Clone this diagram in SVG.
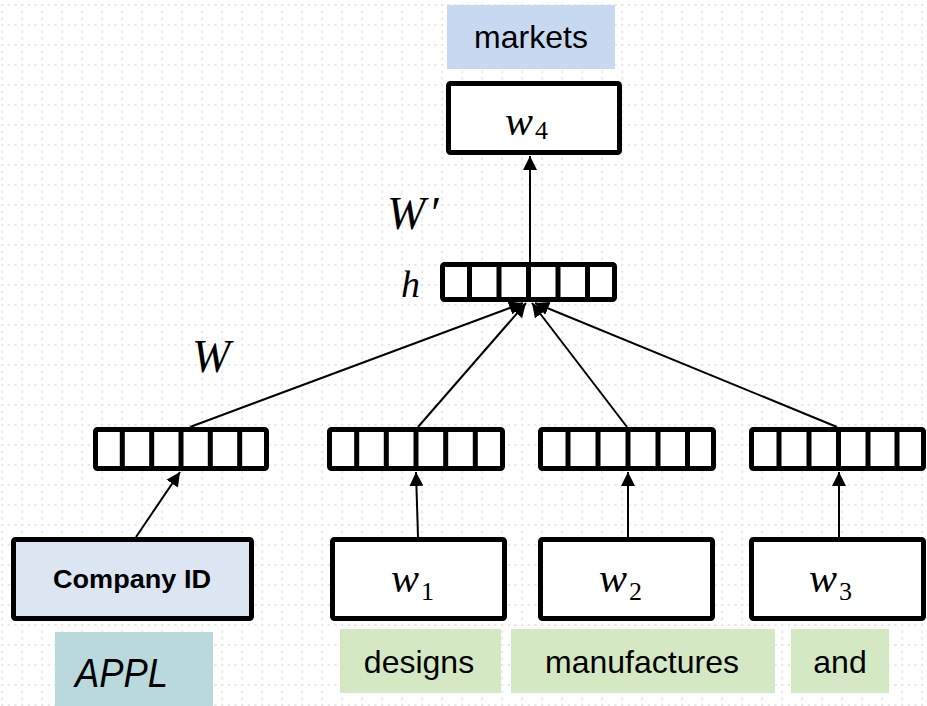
<svg xmlns="http://www.w3.org/2000/svg" width="927" height="706" viewBox="0 0 927 706">
  <defs>
    <!-- dotted background grid, 20px cells -->
    <pattern id="grid" patternUnits="userSpaceOnUse" x="0" y="0" width="20" height="20">
      <rect x="1" y="4" width="2.4" height="2" fill="#e8e8e8"/>
      <rect x="7.7" y="4" width="2.4" height="2" fill="#e8e8e8"/>
      <rect x="14.3" y="4" width="2.4" height="2" fill="#e8e8e8"/>
      <rect x="1.2" y="10.7" width="2" height="2.4" fill="#e8e8e8"/>
      <rect x="1.2" y="17.3" width="2" height="2.4" fill="#e8e8e8"/>
    </pattern>
    <marker id="arrow" markerUnits="userSpaceOnUse" markerWidth="14" markerHeight="14" viewBox="0 0 14 14" refX="14" refY="7" orient="auto">
      <path d="M0,0 L14,7 L0,14 z" fill="#000"/>
    </marker>
  </defs>
  <style>
    .box { fill: #fff; stroke: #000; stroke-width: 5; }
    .vec { fill: #fff; stroke: #000; stroke-width: 5; }
    .div { stroke: #000; stroke-width: 5; fill: none; }
    .edge { stroke: #000; stroke-width: 2; fill: none; marker-end: url(#arrow); }
    .word { font-family: "Liberation Sans", Arial, sans-serif; font-size: 32px; fill: #000; text-anchor: middle; }
    .math { font-family: "Liberation Serif", "Times New Roman", serif; font-style: italic; fill: #000; }
    .var { font-size: 42px; }
    .sub { font-family: "Liberation Serif", "Times New Roman", serif; font-size: 26px; fill: #000; }
  </style>

  <rect width="927" height="706" fill="#fff"/>
  <rect width="927" height="706" fill="url(#grid)"/>

  <!-- output word -->
  <g id="label-markets">
    <rect x="447" y="5" width="168" height="64" fill="#c6d9f1"/>
    <text class="word" x="531" y="48">markets</text>
  </g>
  <g id="node-w4">
    <rect class="box" x="448.5" y="83.5" width="171" height="69" rx="2"/>
    <text class="math var" x="505" y="135">w</text>
    <text class="sub" x="535" y="139">4</text>
  </g>

  <!-- weight labels -->
  <g id="label-Wprime">
    <text class="math" x="387" y="229" font-size="46">W<tspan font-style="normal" dx="6">′</tspan></text>
  </g>
  <g id="label-W">
    <text class="math" x="192" y="372" font-size="46">W</text>
  </g>

  <!-- hidden layer -->
  <g id="node-h">
    <text class="math" x="401" y="297" font-size="38">h</text>
    <rect class="vec" x="442.5" y="264.5" width="172" height="35" rx="2"/>
    <path class="div" d="M469.5,264.5V299.5 M499,264.5V299.5 M528.5,264.5V299.5 M558,264.5V299.5 M587.5,264.5V299.5"/>
  </g>

  <!-- input embedding vectors -->
  <g id="vec-company">
    <rect class="vec" x="95.5" y="429.5" width="171" height="39" rx="2"/>
    <path class="div" d="M122.3,429.5V468.5 M151.7,429.5V468.5 M181,429.5V468.5 M210.3,429.5V468.5 M239.7,429.5V468.5"/>
  </g>
  <g id="vec-w1">
    <rect class="vec" x="329.5" y="429.5" width="173" height="39" rx="2"/>
    <path class="div" d="M356.7,429.5V468.5 M386.3,429.5V468.5 M416,429.5V468.5 M445.7,429.5V468.5 M475.3,429.5V468.5"/>
  </g>
  <g id="vec-w2">
    <rect class="vec" x="540.5" y="429.5" width="173" height="39" rx="2"/>
    <path class="div" d="M568,429.5V468.5 M598,429.5V468.5 M628,429.5V468.5 M658,429.5V468.5 M687.5,429.5V468.5"/>
  </g>
  <g id="vec-w3">
    <rect class="vec" x="751.5" y="429.5" width="172" height="39" rx="2"/>
    <path class="div" d="M779,429.5V468.5 M809,429.5V468.5 M838.5,429.5V468.5 M868,429.5V468.5 M897,429.5V468.5"/>
  </g>

  <!-- input nodes -->
  <g id="node-company">
    <rect x="13.5" y="539.5" width="238" height="79" rx="2" fill="#dce6f2" stroke="#000" stroke-width="5"/>
    <text x="132" y="588" font-family="Liberation Sans, Arial, sans-serif" font-size="25" font-weight="bold" text-anchor="middle" textLength="158" lengthAdjust="spacingAndGlyphs">Company ID</text>
  </g>
  <g id="node-w1">
    <rect class="box" x="332.5" y="539.5" width="172" height="79" rx="2"/>
    <text class="math var" x="391" y="592">w</text>
    <text class="sub" x="421" y="600">1</text>
  </g>
  <g id="node-w2">
    <rect class="box" x="540.5" y="539.5" width="172" height="79" rx="2"/>
    <text class="math var" x="599" y="592">w</text>
    <text class="sub" x="629" y="600">2</text>
  </g>
  <g id="node-w3">
    <rect class="box" x="751.5" y="539.5" width="172" height="79" rx="2"/>
    <text class="math var" x="809" y="592">w</text>
    <text class="sub" x="839" y="600">3</text>
  </g>

  <!-- input words -->
  <g id="label-appl">
    <rect x="55" y="632" width="158" height="74" fill="#b9d9dd"/>
    <text x="75" y="687" font-family="Liberation Sans, Arial, sans-serif" font-size="40" font-style="italic" textLength="93" lengthAdjust="spacingAndGlyphs">APPL</text>
  </g>
  <g id="label-designs">
    <rect x="340" y="629" width="161" height="64" fill="#d5e8c4"/>
    <text class="word" x="419" y="673">designs</text>
  </g>
  <g id="label-manufactures">
    <rect x="511" y="629" width="264" height="64" fill="#d5e8c4"/>
    <text class="word" x="642" y="673">manufactures</text>
  </g>
  <g id="label-and">
    <rect x="791" y="629" width="98" height="64" fill="#d5e8c4"/>
    <text class="word" x="840" y="673">and</text>
  </g>

  <!-- connectors -->
  <g id="connectors">
    <line class="edge" x1="136" y1="537" x2="180" y2="472"/>
    <line class="edge" x1="418" y1="537" x2="416" y2="472"/>
    <line class="edge" x1="628" y1="537" x2="628" y2="472"/>
    <line class="edge" x1="839" y1="537" x2="839" y2="472"/>
    <line class="edge" x1="190" y1="427" x2="523" y2="303"/>
    <line class="edge" x1="418" y1="427" x2="526" y2="303"/>
    <line class="edge" x1="627" y1="427" x2="532" y2="303"/>
    <line class="edge" x1="837" y1="427" x2="535" y2="303"/>
    <line class="edge" x1="530" y1="262" x2="530" y2="156"/>
  </g>
</svg>
